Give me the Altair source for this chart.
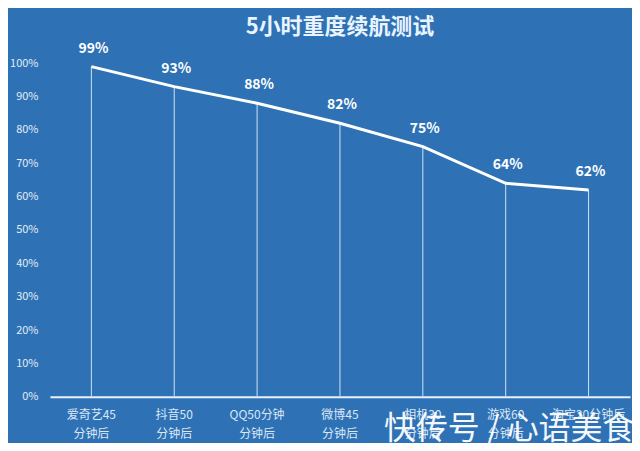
import altair as alt
import pandas as pd

categories = ["爱奇艺45\n分钟后", "抖音50\n分钟后", "QQ50分钟\n分钟后", "微博45\n分钟后",
              "相机30\n分钟后", "游戏60\n分钟后", "淘宝20分钟后"]
values = [0.99, 0.93, 0.88, 0.82, 0.75, 0.64, 0.62]
labels = ["99%", "93%", "88%", "82%", "75%", "64%", "62%"]
title_text = "5小时重度续航测试"
watermark = "快传号 / 心语美食"

df = pd.DataFrame({"cat": categories, "val": values, "lab": labels})
FONT = "Noto Sans CJK SC"
BG = "#2E72B5"

x = alt.X("cat:N", sort=categories, title=None,
          scale=alt.Scale(paddingInner=0, paddingOuter=0.0),
          axis=alt.Axis(labelExpr="split(datum.label, '\\n')", labelAngle=0,
                        labelColor="#dbe7f5", labelFont=FONT, labelFontSize=12,
                        labelPadding=13, labelLineHeight=19, ticks=False,
                        domainColor="#e8f1fb", domainWidth=2, grid=False))
y = alt.Y("val:Q", title=None,
          scale=alt.Scale(domain=[0, 1], nice=False),
          axis=alt.Axis(format=".0%", values=[i / 10 for i in range(11)],
                        labelColor="#e3ecf7", labelFont=FONT, labelFontSize=11,
                        labelPadding=12, ticks=False, domain=False, grid=False))

base = alt.Chart(df)

rules = base.mark_rule(color="#cfe3f5", strokeWidth=1).encode(
    x=x, y=y, y2=alt.datum(0))
line = base.mark_line(color="white", strokeWidth=3).encode(x=x, y=y)
text = base.mark_text(color="white", font=FONT, fontSize=14, fontWeight="bold",
                      dy=-18, dx=2).encode(x=x, y=y, text="lab:N")
wm = alt.Chart(pd.DataFrame({"t": [watermark]})).mark_text(
    color="white", font=FONT, fontSize=32, opacity=0.95, align="center",
    baseline="middle").encode(x=alt.value(460), y=alt.value(366), text="t:N")

chart = alt.layer(rules, line, text, wm).properties(
    width=581, height=334,
    title=alt.TitleParams(title_text, font=FONT, fontSize=22, fontWeight="bold",
                          color="#eaf4ff", anchor="middle", offset=3),
    background=BG,
    padding={"left": 42, "top": 55, "right": 2, "bottom": 46},
    autosize=alt.AutoSizeParams(type="none"),
).configure_view(stroke=None)

chart.save("out.html", embed_options={"renderer": "svg", "actions": False})
